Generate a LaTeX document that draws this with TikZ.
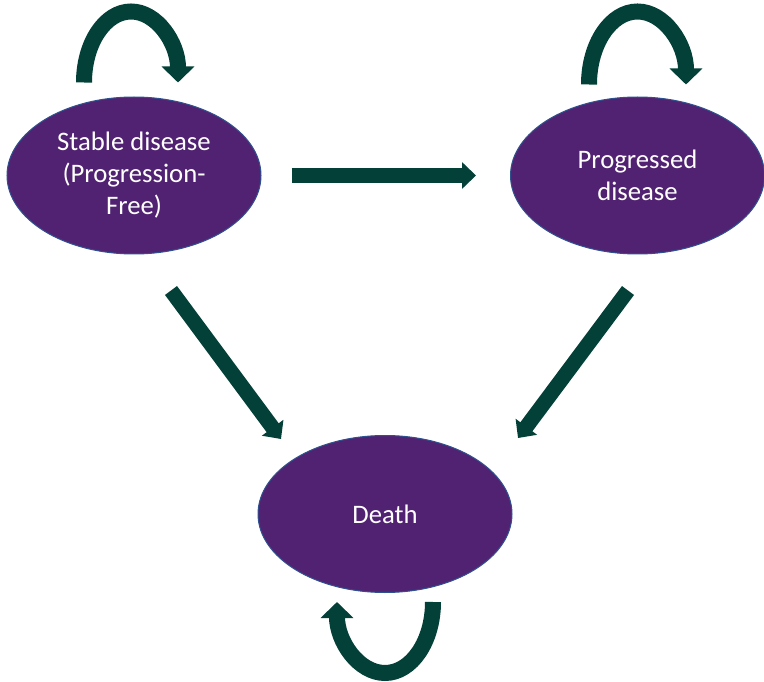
\documentclass[tikz,border=0pt]{standalone}
\usepackage{fontspec}
\setmainfont{Carlito}
\usetikzlibrary{shapes.geometric, arrows.meta}

\definecolor{statepurple}{RGB}{82,34,114}
\definecolor{stateedge}{RGB}{47,82,143}
\definecolor{arrowgreen}{RGB}{3,64,56}

\begin{document}
\begin{tikzpicture}[x=1pt, y=1pt,
    state/.style={ellipse, draw=stateedge, line width=1pt, fill=statepurple, text=white,
        minimum width=254pt, minimum height=157pt, inner sep=0pt, align=center,
        font=\fontsize{26.7}{32}\selectfont},
    flow/.style={draw=arrowgreen, line width=15pt, -{Triangle[width=26pt, length=14pt]}},
    selfloop/.style={draw=arrowgreen, line width=16pt, -{Triangle[width=32pt, length=16pt]}}]
    \useasboundingbox (0,0) rectangle (764,-682);

    % States
    \node[state] (stable) at (134,-175.5) {Stable disease\\(Progression-\\Free)};
    \node[state] (progressed) at (637.5,-175.5) {Progressed\\disease};
    \node[state] (death) at (385,-514) {Death};

    % Transitions
    \draw[flow] ([xshift=30pt]stable.east) -- ([xshift=-34pt]progressed.west);
    \draw[flow] ([shift={(37,-36)}]stable.south) -- ([shift={(-104,-4)}]death.north);
    \draw[flow] ([shift={(-9.5,-36)}]progressed.south) -- ([shift={(133,-3)}]death.north);

    % Staying in the same state
    \draw[selfloop] ([shift={(-50,14)}]stable.north) arc[start angle=180, end angle=0, x radius=47, y radius=71];
    \draw[selfloop] ([shift={(-48.5,12)}]progressed.north) arc[start angle=180, end angle=0, x radius=48.5, y radius=73];
    \draw[selfloop] ([shift={(48,-9)}]death.south) arc[start angle=0, end angle=-180, x radius=48, y radius=71];
\end{tikzpicture}
\end{document}
